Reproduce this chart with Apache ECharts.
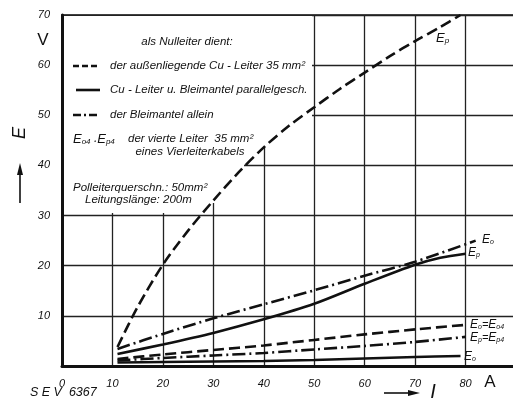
<!DOCTYPE html>
<html>
<head>
<meta charset="utf-8">
<script src="https://cdn.jsdelivr.net/npm/echarts@6/dist/echarts.min.js"></script>
<style>html,body{margin:0;padding:0;background:#fff}#c{width:513px;height:409px}</style>
</head>
<body>
<div id="c"></div>
<script>
// ---- data (I in A, E in V) ----
const xTicks = [0, 10, 20, 30, 40, 50, 60, 70, 80];
const yTicks = [10, 20, 30, 40, 50, 60, 70];

// Cu-Leiter (dashed), E_p
const cuEpI = [11, 15, 20, 25, 30, 35, 40, 45, 50, 55, 60, 65, 70, 75, 79];
const cuEpE = [3.8, 11.8, 20.2, 27, 33, 38.6, 43.6, 47.9, 51.6, 55.2, 58.5, 61.8, 64.8, 67.6, 70];
// Bleimantel allein (dash-dot), E_o
const bmEoI = [11, 20, 30, 40, 50, 60, 70, 82];
const bmEoE = [3.4, 6.4, 9.5, 12.3, 15.1, 18, 20.8, 25];
// Cu u. Blei parallel (solid), E_p
const parEpI = [11, 20, 30, 40, 50, 60, 70, 75, 80];
const parEpE = [2.4, 4.3, 6.6, 9.3, 12.4, 16.4, 20.2, 21.6, 22.4];
// Cu-Leiter (dashed), E_o = E_o4
const cuEoI = [11, 20, 30, 40, 50, 60, 70, 80];
const cuEoE = [1.4, 2.3, 3.2, 4.1, 5.2, 6.3, 7.3, 8.2];
// Bleimantel (dash-dot), E_p = E_p4
const bmEpI = [11, 20, 30, 40, 50, 60, 70, 80];
const bmEpE = [1.1, 1.6, 2.1, 2.6, 3.3, 4.0, 4.8, 5.8];
// parallel (solid), E_o
const parEoI = [11, 20, 30, 40, 50, 60, 70, 79];
const parEoE = [0.7, 0.8, 0.9, 1.0, 1.2, 1.5, 1.8, 2.0];

const pairs = (xs, ys) => xs.map((x, i) => [x, ys[i]]);
const INK = '#111';
const FF = '"Liberation Sans", "DejaVu Sans", sans-serif';
const DASH = [11, 5];
const DASHDOT = [13, 4, 2, 4];
const LW = 2.6;

function mkLine(name, data, dash) {
  return {
    name, type: 'line', data, symbol: 'none', smooth: 0.3,
    z: 3,
    lineStyle: { color: INK, width: LW, type: dash || 'solid', cap: 'butt' }
  };
}

const chart = echarts.init(document.getElementById('c'), null, { renderer: 'canvas' });

function richStyles(main, sub) {
  return {
    m: { fontFamily: FF, fontStyle: 'italic', fontSize: main, color: INK },
    s: { fontFamily: FF, fontStyle: 'italic', fontSize: sub, color: INK, verticalAlign: 'bottom', padding: [5, 0, 0, 0] },
    t: { fontFamily: FF, fontStyle: 'italic', fontSize: main - 1, color: INK }
  };
}
function txt(x, y, text, size, align) {
  return {
    type: 'text', z: 10,
    style: { x, y, text, fill: INK, font: 'italic ' + size + 'px ' + FF, align: align || 'left', verticalAlign: 'middle' }
  };
}
function rich(x, y, text, main, sub) {
  return {
    type: 'text', z: 10,
    style: { x, y, text, rich: richStyles(main || 13, sub || 8), fill: INK, align: 'left', verticalAlign: 'middle' }
  };
}
function sample(x1, x2, y, dash) {
  return {
    type: 'line', z: 10,
    shape: { x1, y1: y, x2, y2: y },
    style: { stroke: INK, lineWidth: LW, lineDash: dash || null }
  };
}
function blank(x, y, w, h) {
  return { type: 'rect', z: 1, shape: { x, y, width: w, height: h }, style: { fill: '#fff' } };
}

chart.setOption({
  animation: false,
  backgroundColor: '#fff',
  grid: { left: 62, top: 15, width: 454, height: 351, outerBoundsMode: 'none', containLabel: false, show: true, borderColor: INK, borderWidth: 1.6, backgroundColor: 'transparent' },
  xAxis: {
    type: 'value', min: 0, max: 90, interval: 10,
    axisLine: { show: true, lineStyle: { color: INK, width: 3 } },
    axisTick: { show: false },
    splitLine: { show: true, lineStyle: { color: '#222', width: 1.3 } },
    axisLabel: {
      margin: 12, color: INK, fontFamily: FF, fontStyle: 'italic', fontSize: 11,
      formatter: v => xTicks.includes(v) ? String(v) : ''
    }
  },
  yAxis: {
    type: 'value', min: 0, max: 70, interval: 10,
    axisLine: { show: true, lineStyle: { color: INK, width: 3 } },
    axisTick: { show: false },
    splitLine: { show: true, lineStyle: { color: '#222', width: 1.3 } },
    axisLabel: {
      margin: 12, color: INK, fontFamily: FF, fontStyle: 'italic', fontSize: 11,
      formatter: v => yTicks.includes(v) ? String(v) : ''
    }
  },
  graphic: [
    blank(64, 16, 248, 131),
    blank(64, 147, 180, 56),
    blank(64, 203, 147, 10),
    txt(187, 42, 'als Nulleiter dient:', 11.5, 'center'),
    sample(73, 98, 66, [6, 3]),
    txt(110, 66, 'der außenliegende Cu - Leiter 35 mm²', 11.5),
    sample(76, 100, 90),
    txt(110, 90, 'Cu - Leiter u. Bleimantel parallelgesch.', 11.5),
    sample(73, 98, 115, [8, 3, 2, 3]),
    txt(110, 115, 'der Bleimantel allein', 11.5),
    rich(73, 139, '{m|E}{s|o4} {t|.}{m|E}{s|p4}', 13, 8),
    txt(128, 139, 'der vierte Leiter  35 mm²', 11.5),
    txt(190, 152, 'eines Vierleiterkabels', 11.5, 'center'),
    txt(73, 188, 'Polleiterquerschn.: 50mm²', 11.5),
    txt(85, 200, 'Leitungslänge: 200m', 11.5),
    // axis titles
    { type: 'text', z: 10, style: { x: 43, y: 40, text: 'V', fill: INK, font: '17px ' + FF, align: 'center', verticalAlign: 'middle' } },
    { type: 'text', z: 10, style: { x: 490, y: 382, text: 'A', fill: INK, font: '17px ' + FF, align: 'center', verticalAlign: 'middle' } },
    { type: 'text', z: 10, x: 20, y: 133, rotation: Math.PI / 2, style: { x: 0, y: 0, text: 'E', fill: INK, font: 'italic 18px ' + FF, align: 'center', verticalAlign: 'middle' } },
    { type: 'line', z: 10, shape: { x1: 20, y1: 203, x2: 20, y2: 172 }, style: { stroke: INK, lineWidth: 1.6 } },
    { type: 'polygon', z: 10, shape: { points: [[20, 163], [17, 175], [23, 175]] }, style: { fill: INK } },
    { type: 'line', z: 10, shape: { x1: 384, y1: 393, x2: 410, y2: 393 }, style: { stroke: INK, lineWidth: 1.6 } },
    { type: 'polygon', z: 10, shape: { points: [[420, 393], [408, 390], [408, 396]] }, style: { fill: INK } },
    txt(433, 392, 'I', 20, 'center'),
    txt(30, 393, 'S E V  6367', 12.5),
    // curve labels
    rich(436, 38, '{m|E}{s|p}', 13, 8),
    rich(482, 240, '{m|E}{s|o}', 12, 7),
    rich(468, 253, '{m|E}{s|p}', 12, 7),
    rich(470, 325, '{m|E}{s|o}{t|=}{m|E}{s|o4}', 12, 7),
    rich(470, 338, '{m|E}{s|p}{t|=}{m|E}{s|p4}', 12, 7),
    rich(464, 357, '{m|E}{s|o}', 12, 7)
  ],
  series: [
    mkLine('Ep Cu-Leiter', pairs(cuEpI, cuEpE), DASH),
    mkLine('Eo Bleimantel', pairs(bmEoI, bmEoE), DASHDOT),
    mkLine('Ep parallel', pairs(parEpI, parEpE)),
    mkLine('Eo Cu-Leiter', pairs(cuEoI, cuEoE), DASH),
    mkLine('Ep Bleimantel', pairs(bmEpI, bmEpE), DASHDOT),
    mkLine('Eo parallel', pairs(parEoI, parEoE))
  ]
});
</script>
</body>
</html>
